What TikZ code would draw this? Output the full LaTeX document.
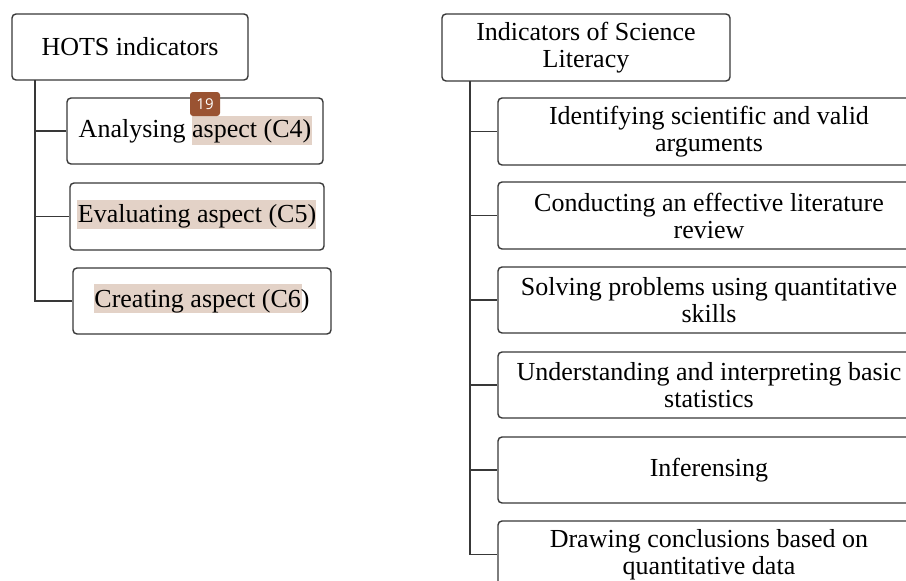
\documentclass[tikz,border=0pt]{standalone}
\usepackage{fontspec}
\setmainfont{Liberation Serif}
\newfontfamily\badgefont{Open Sans}
\definecolor{edge}{HTML}{383838}
\definecolor{hilite}{HTML}{E3D2C7}
\definecolor{badge}{HTML}{9A5332}
\begin{document}
\begin{tikzpicture}[x=1pt, y=-1pt, line width=1.4pt,
  box/.style={draw=edge, rounded corners=4pt, inner sep=0pt, align=center,
    font=\fontsize{26}{27}\selectfont},
  link/.style={draw=edge, line width=1.3pt}]
\clip (0,0) rectangle (906,581);
% highlights
\fill[hilite] (192,116) rectangle (312,145);
\fill[hilite] (77,200) rectangle (316,229);
\fill[hilite] (94,284) rectangle (302,313);
% HOTS
\node[box, minimum width=236, minimum height=66] (H_0) at (130,47) {HOTS indicators};
\node[box, minimum width=256, minimum height=66] (H_1) at (195,131) {Analysing aspect (C4)};
\node[box, minimum width=254, minimum height=67] (H_2) at (197,216.5) {Evaluating aspect (C5)};
\node[box, minimum width=258, minimum height=66] (H_3) at (202,301) {Creating aspect (C6)};
\coordinate (H_t) at (35,80);
\draw[link] (H_t) |- (H_1.west);
\draw[link] (H_t) |- (H_2.west);
\draw[link] (H_t) |- (H_3.west);
% science literacy
\node[box, minimum width=288, minimum height=67] (S_0) at (586,47.5) {Indicators of Science\\Literacy};
\node[box, minimum width=422, minimum height=67] (S_1) at (709,131.5) {Identifying scientific and valid\\arguments};
\node[box, minimum width=422, minimum height=67] (S_2) at (709,215.5) {Conducting an effective literature\\review};
\node[box, minimum width=422, minimum height=66] (S_3) at (709,300) {Solving problems using quantitative\\skills};
\node[box, minimum width=422, minimum height=66] (S_4) at (709,385) {Understanding and interpreting basic\\statistics};
\node[box, minimum width=422, minimum height=66] (S_5) at (709,470) {Inferensing};
\node[box, minimum width=422, minimum height=67] (S_6) at (709,554.5) {Drawing conclusions based on\\quantitative data};
\coordinate (S_t) at (470,81);
\foreach \i in {1,...,6}
  \draw[link] (S_t) |- (S_\i.west);
% badge
\node[fill=badge, rounded corners=3pt, text=white, inner sep=0pt,
  minimum width=30, minimum height=24, font=\badgefont\fontsize{15}{15}\selectfont] (B) at (205,104) {19};
\end{tikzpicture}
\end{document}
